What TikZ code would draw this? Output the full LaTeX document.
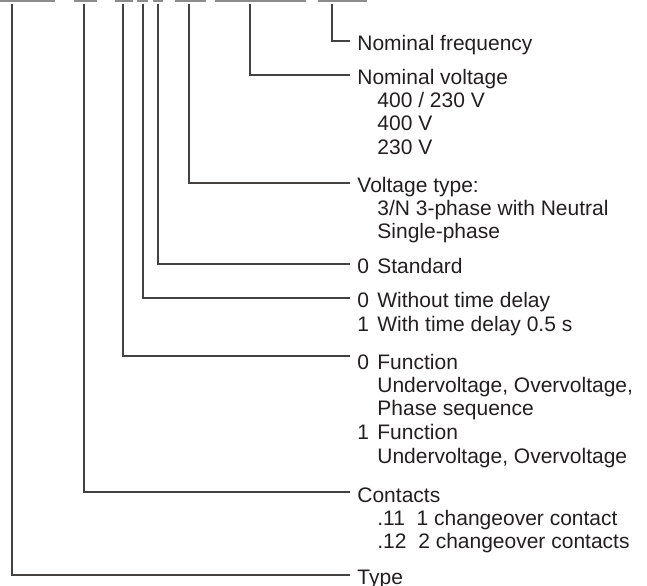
\documentclass[tikz,border=0pt]{standalone}
\usepackage{fontspec}
\setmainfont{Liberation Sans}
\definecolor{ink}{HTML}{231F20}
\newcommand{\ind}{\hspace*{10pt}}
\newcommand{\opt}[1]{\makebox[10pt][l]{#1}}
\tikzset{
	lead/.style={draw=ink!85, line width=0.6pt, shorten >=3.5pt},
	codeline/.style={draw=black!45, line width=0.8pt},
	entry/.style={anchor=west, inner sep=0pt, text height=9pt, text depth=0pt,
		text=ink, font=\fontsize{10.5pt}{11.8pt}\selectfont},
	% first line gets a fixed 8pt top so the north anchor is predictable
	sub/.style={anchor=north west, inner sep=0pt, align=left, text=ink,
		font=\fontsize{10.5pt}{11.8pt}\selectfont,
		execute at begin node=\rule{0pt}{8pt}},
}
\begin{document}
\begin{tikzpicture}[x=0.5pt,y=-0.5pt]
		\useasboundingbox (0,0) rectangle (647,585);
		% underlined parts of the order code
		\foreach \a/\b in {0/55,74/97,115/133,137/148,153/163,175/206,215/306,318/367}
			\draw[codeline] (\a,1) -- (\b,1);
		% drop points below the code
		\coordinate (tType) at (12,4);
		\coordinate (tCont) at (84,4);
		\coordinate (tFunc) at (123,4);
		\coordinate (tDelay) at (143,4);
		\coordinate (tStd) at (158,4);
		\coordinate (tVtype) at (189,4);
		\coordinate (tVolt) at (250,4);
		\coordinate (tFreq) at (332,4);
		% entries
		\node[entry] (freq) at (357,41) {Nominal frequency};
		\node[entry] (volt) at (357,75) {Nominal voltage};
		\node[sub] (voltopt) at ([yshift=-3.8pt]volt.base west)
			{\ind 400 / 230 V\\ \ind 400 V\\ \ind 230 V};
		\node[entry] (vtype) at (357,183) {Voltage type:};
		\node[sub] (vtypeopt) at ([yshift=-3.8pt]vtype.base west)
			{\ind 3/N 3-phase with Neutral\\ \ind Single-phase};
		\node[entry] (std) at (357,264) {\opt{0}Standard};
		\node[entry] (delay) at (357,298) {\opt{0}Without time delay};
		\node[sub] (delayopt) at ([yshift=-3.8pt]delay.base west)
			{\opt{1}With time delay 0.5 s};
		\node[entry, text height=13pt] (func) at (357,356) {\opt{0}Function};
		\node[sub] (funcopt) at ([yshift=-3.8pt]func.base west)
			{\ind Undervoltage, Overvoltage,\\ \ind Phase sequence\\
			\opt{1}Function\\ \ind Undervoltage, Overvoltage};
		\node[entry, text height=10pt] (cont) at (357,492) {Contacts};
		\node[sub] (contopt) at ([yshift=-3.8pt]cont.base west)
			{\ind .11~~1 changeover contact\\ \ind .12~~2 changeover contacts};
		\node[entry] (type) at (357,575) {Type};
		% leaders
		\draw[lead] (tFreq) |- (freq.west);
		\draw[lead] (tVolt) |- (volt.west);
		\draw[lead] (tVtype) |- (vtype.west);
		\draw[lead] (tStd) |- (std.west);
		\draw[lead] (tDelay) |- (delay.west);
		\draw[lead] (tFunc) |- (func.west);
		\draw[lead] (tCont) |- (cont.west);
		\draw[lead] (tType) |- (type.west);
	\end{tikzpicture}
\end{document}
